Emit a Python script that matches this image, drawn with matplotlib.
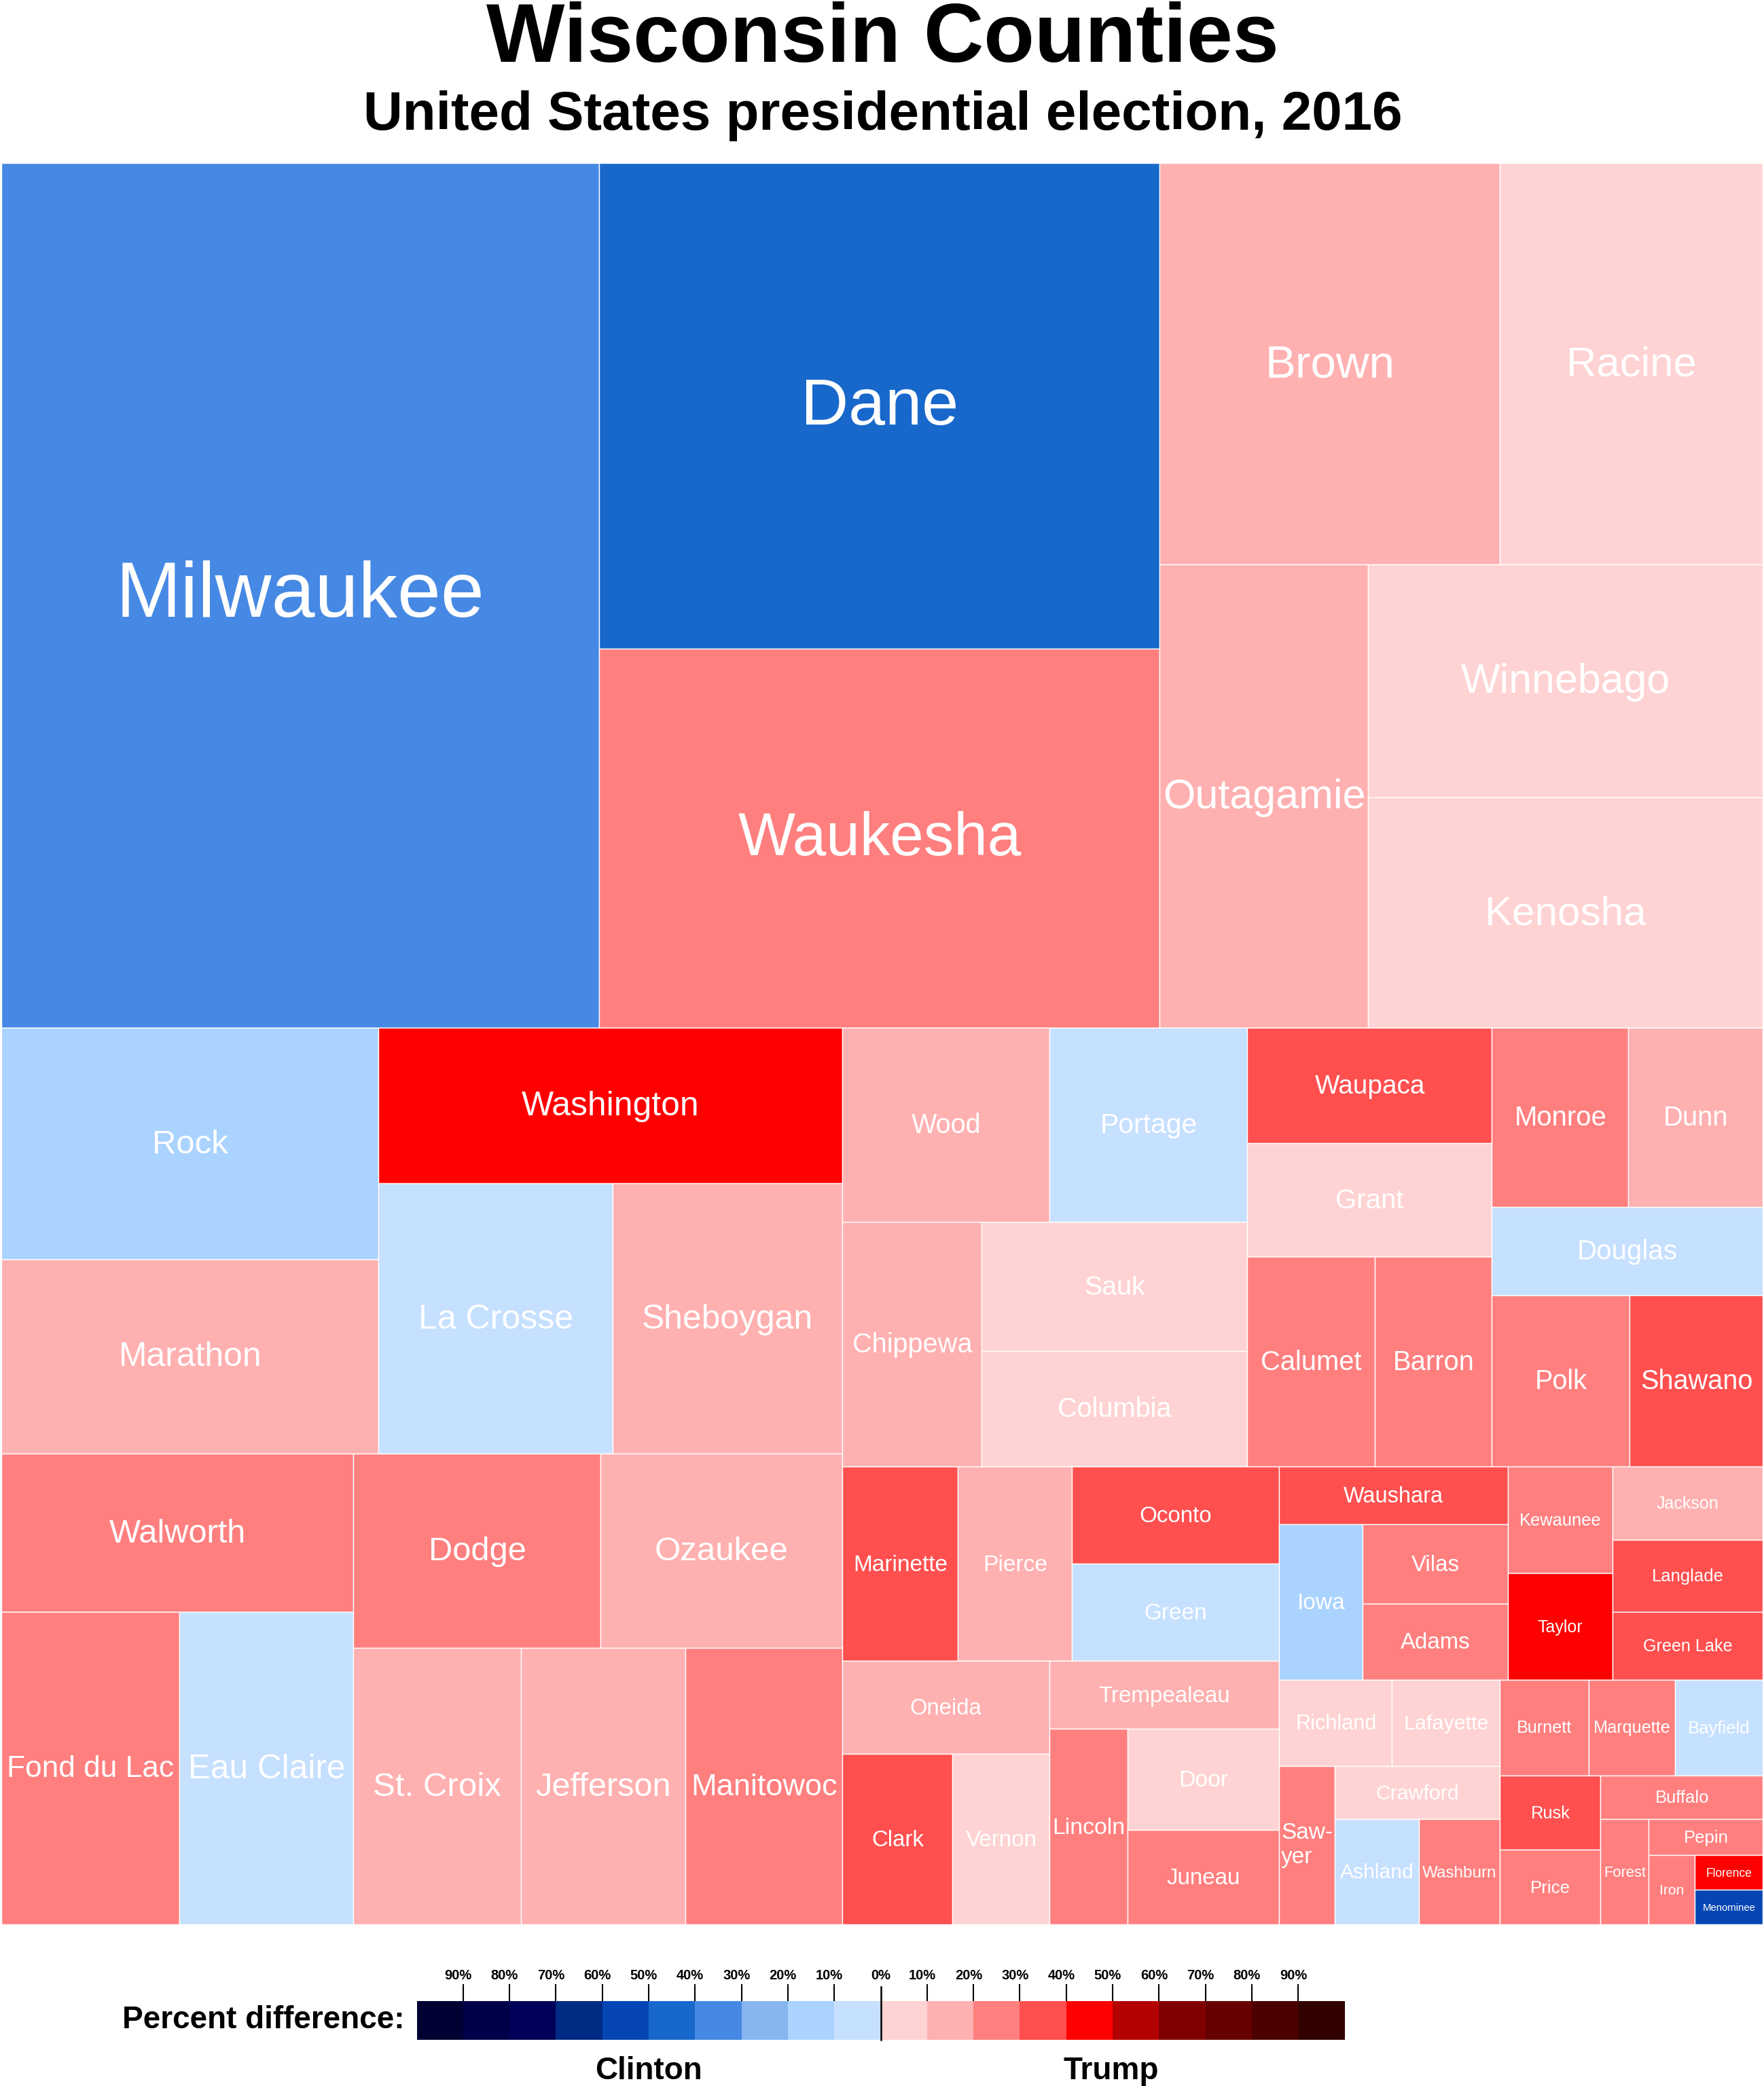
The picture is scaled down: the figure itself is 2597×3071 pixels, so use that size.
import numpy as np
import matplotlib
matplotlib.use('Agg')
import matplotlib.pyplot as plt
from matplotlib.colors import BoundaryNorm, ListedColormap
from matplotlib.font_manager import FontProperties
from matplotlib.patches import Rectangle
from matplotlib.textpath import TextPath

plt.rcParams['font.family'] = ['Liberation Sans', 'DejaVu Sans']

W, H = 2597, 3071

counties = ['Milwaukee', 'Dane', 'Waukesha', 'Brown', 'Racine', 'Outagamie', 'Winnebago', 'Kenosha',
            'Rock', 'Marathon', 'Washington', 'La Crosse', 'Sheboygan', 'Walworth', 'Fond du Lac',
            'Eau Claire', 'Dodge', 'Ozaukee', 'St. Croix', 'Jefferson', 'Manitowoc', 'Wood', 'Portage',
            'Chippewa', 'Sauk', 'Columbia', 'Waupaca', 'Grant', 'Calumet', 'Barron', 'Monroe', 'Dunn',
            'Douglas', 'Polk', 'Shawano', 'Marinette', 'Pierce', 'Oconto', 'Green', 'Oneida', 'Clark',
            'Vernon', 'Trempealeau', 'Lincoln', 'Door', 'Juneau', 'Waushara', 'Iowa', 'Vilas', 'Adams',
            'Kewaunee', 'Taylor', 'Jackson', 'Langlade', 'Green Lake', 'Richland', 'Lafayette', 'Sawyer',
            'Crawford', 'Ashland', 'Washburn', 'Burnett', 'Marquette', 'Bayfield', 'Rusk', 'Price',
            'Buffalo', 'Forest', 'Pepin', 'Iron', 'Florence', 'Menominee']

# size of each county
sizes = [292500, 154030, 120270, 77312, 59796, 54636, 51975, 51381,
         49416, 41464, 40833, 35728, 35119, 31535, 31490,
         30785, 27156, 26572, 26208, 25792, 24544, 22776, 21754,
         19320, 19400, 17400, 16008, 15640, 15168, 13904, 13905, 13635,
         13464, 13416, 12900, 12702, 12556, 11388, 11388, 10920, 10624,
         9344, 8823, 8673, 8664, 8094, 7396, 7371, 6540, 6213,
         6320, 6320, 6215, 6102, 5763, 5525, 5265, 4998,
         4960, 4977, 4819, 4824, 4680, 4752, 4256, 4256,
         4026, 2844, 2322, 1820, 1326, 1326]

# percent difference, negative = Clinton, positive = Trump (only the colour band can be read)
margins = [-35, -45, 25, 15, 5, 15, 5, 5,
           -15, 15, 45, -5, 15, 25, 25,
           -5, 25, 15, 15, 15, 25, 15, -5,
           15, 5, 5, 35, 5, 25, 25, 25, 15,
           -5, 25, 35, 35, 15, 35, -5, 15, 35,
           5, 15, 25, 5, 25, 35, -15, 25, 25,
           25, 45, 15, 35, 35, 5, 5, 25,
           5, -5, 25, 25, 25, -5, 35, 25,
           25, 25, 25, 25, 45, -55]

band_colors = ['#000033', '#00004A', '#000058', '#002B84', '#0646B4', '#1868CC', '#4689E4', '#87B5F0',
               '#AAD3FF', '#C6E0FF', '#FFD3D3', '#FFB0B0', '#FF7F7F', '#FF4F4F', '#FF0000',
               '#B30000', '#800000', '#660000', '#4D0000', '#330000']
band_edges = np.arange(-100, 101, 10)
tick_values = np.arange(-90, 91, 10)

# how the rectangles nest: 'h' = side by side, 'v' = stacked
tree = ('v', [
    ('h', ['Milwaukee', ('v', ['Dane', 'Waukesha']),
           ('v', [('h', ['Brown', 'Racine']),
                  ('h', ['Outagamie', ('v', ['Winnebago', 'Kenosha'])])])]),
    ('h', [
        ('v', [
            ('h', [('v', ['Rock', 'Marathon']),
                   ('v', ['Washington', ('h', ['La Crosse', 'Sheboygan'])])]),
            ('h', [('v', ['Walworth', ('h', ['Fond du Lac', 'Eau Claire'])]),
                   ('v', [('h', ['Dodge', 'Ozaukee']),
                          ('h', ['St. Croix', 'Jefferson', 'Manitowoc'])])]),
        ]),
        ('v', [
            ('h', [
                ('v', [('h', ['Wood', 'Portage']),
                       ('h', ['Chippewa', ('v', ['Sauk', 'Columbia'])])]),
                ('v', ['Waupaca', 'Grant', ('h', ['Calumet', 'Barron'])]),
                ('v', [('h', ['Monroe', 'Dunn']), 'Douglas', ('h', ['Polk', 'Shawano'])]),
            ]),
            ('h', [
                ('v', [
                    ('h', ['Marinette', 'Pierce', ('v', ['Oconto', 'Green'])]),
                    ('h', [('v', ['Oneida', ('h', ['Clark', 'Vernon'])]),
                           ('v', ['Trempealeau', ('h', ['Lincoln', ('v', ['Door', 'Juneau'])])])]),
                ]),
                ('v', [
                    ('h', [('v', ['Waushara', ('h', ['Iowa', ('v', ['Vilas', 'Adams'])])]),
                           ('v', ['Kewaunee', 'Taylor']),
                           ('v', ['Jackson', 'Langlade', 'Green Lake'])]),
                    ('h', [
                        ('v', [('h', ['Richland', 'Lafayette']),
                               ('h', ['Sawyer', ('v', ['Crawford', ('h', ['Ashland', 'Washburn'])])])]),
                        ('v', [('h', ['Burnett', 'Marquette', 'Bayfield']),
                               ('h', [('v', ['Rusk', 'Price']),
                                      ('v', ['Buffalo',
                                             ('h', ['Forest',
                                                    ('v', ['Pepin',
                                                           ('h', ['Iron', ('v', ['Florence', 'Menominee'])])])])])])]),
                    ]),
                ]),
            ]),
        ]),
    ]),
])

# label widths in output pixels, the font size follows from them
label_widths = {
    'Milwaukee': 528, 'Dane': 220, 'Waukesha': 417, 'Brown': 181, 'Racine': 184, 'Outagamie': 293,
    'Winnebago': 305, 'Kenosha': 233, 'Rock': 108, 'Marathon': 203, 'Washington': 258, 'La Crosse': 222,
    'Sheboygan': 246, 'Walworth': 198, 'Fond du Lac': 241, 'Eau Claire': 225, 'Dodge': 138, 'Ozaukee': 192,
    'St. Croix': 186, 'Jefferson': 196, 'Manitowoc': 211, 'Wood': 100, 'Portage': 138, 'Chippewa': 175,
    'Sauk': 88, 'Columbia': 166, 'Waupaca': 162, 'Grant': 98, 'Calumet': 146, 'Barron': 114, 'Monroe': 131,
    'Dunn': 90, 'Douglas': 143, 'Polk': 74, 'Shawano': 162, 'Marinette': 135, 'Pierce': 90.6, 'Oconto': 104,
    'Green': 89, 'Oneida': 104, 'Clark': 75, 'Vernon': 103, 'Trempealeau': 191, 'Lincoln': 102, 'Door': 70,
    'Juneau': 106, 'Waushara': 147, 'Iowa': 67.7, 'Vilas': 69.5, 'Adams': 101.5, 'Kewaunee': 117,
    'Taylor': 65.8, 'Jackson': 89.6, 'Langlade': 102, 'Green Lake': 129, 'Richland': 114.8, 'Lafayette': 121.6,
    'Sawyer': 73, 'Crawford': 119, 'Ashland': 106.5, 'Washburn': 108, 'Burnett': 79, 'Marquette': 110.6,
    'Bayfield': 87.3, 'Rusk': 55.8, 'Price': 55.8, 'Buffalo': 76, 'Forest': 60.3, 'Pepin': 62, 'Iron': 33,
    'Florence': 66, 'Menominee': 76,
}

size_of = dict(zip(counties, sizes))
margin_of = dict(zip(counties, margins))
cmap = ListedColormap(band_colors)
norm = BoundaryNorm(band_edges, cmap.N)
prop = FontProperties(family='Liberation Sans')


def total(node):
    if isinstance(node, str):
        return size_of[node]
    return sum(total(child) for child in node[1])


def layout(node, x, y, w, h, out):
    """Slice the box along the nesting, each part in proportion to its size."""
    if isinstance(node, str):
        out[node] = (x, y, w, h)
        return
    direction, children = node
    whole = total(node)
    for child in children:
        part = total(child) / whole
        if direction == 'h':
            layout(child, x, y, w * part, h, out)
            x += w * part
        else:
            layout(child, x, y, w, h * part, out)
            y += h * part


def label_size(name):
    """Font size in points that makes the label as wide as in the picture (dpi 100)."""
    text = 'Saw-' if name == 'Sawyer' else name
    width = TextPath((0, 0), text, size=100, prop=prop).get_extents().width
    return 100 * label_widths[name] / width * 72 / 100


fig = plt.figure(figsize=(W / 100, H / 100), dpi=100)

ax = fig.add_axes([2 / W, (H - 2833) / H, (W - 4) / W, (2833 - 240) / H])
ax.set_xlim(0, 1)
ax.set_ylim(1, 0)
ax.axis('off')

boxes = {}
layout(tree, 0, 0, 1, 1, boxes)
for name in counties:
    x, y, w, h = boxes[name]
    ax.add_patch(Rectangle((x, y), w, h, facecolor=cmap(norm(margin_of[name])),
                           edgecolor='#ffffff', linewidth=1.0, clip_on=False))
    fs = label_size(name)
    if name == 'Sawyer':
        ax.text(x + w / 2, y + h / 2, 'Saw-\nyer', color='white', fontsize=fs, ha='center', va='center',
                multialignment='left', linespacing=1.22)
    else:
        # baseline a little under the middle, the text sits slightly high in its box
        ax.annotate(name, (x + w / 2, y + h / 2), xytext=(0.3, -0.262 * fs - 1.2), textcoords='offset points',
                    color='white', fontsize=fs, ha='center', va='baseline')

# legend bar
cax = fig.add_axes([613.6 / W, (H - 3003) / H, (1979.5 - 613.6) / W, 57 / H])
cax.pcolormesh(band_edges, [0, 1], np.array([band_edges[:-1] + 5]), cmap=cmap, norm=norm)
cax.set_xlim(-100, 100)
cax.set_ylim(0, 1)
cax.set_yticks([])
for spine in cax.spines.values():
    spine.set_visible(False)
cax.xaxis.tick_top()
cax.set_xticks(tick_values[tick_values != 0])
cax.set_xticklabels([])
cax.tick_params(axis='x', length=18, width=1.5, color='black')
cax.plot([0, 0], [0, 1.37], color='black', linewidth=1.8, clip_on=False)
for v in tick_values:
    cax.annotate(f'{abs(v)}%', (v, 1), xycoords=cax.get_xaxis_transform(),
                 xytext=(0 if v == 0 else -5.2, 23), textcoords='offset points',
                 fontsize=14.5, fontweight='bold', ha='center', va='baseline')

fig.text(1299 / W, 1 - 90.7 / H, 'Wisconsin Counties', fontsize=88, fontweight='bold', ha='center', va='baseline')
fig.text(1300 / W, 1 - 190.7 / H, 'United States presidential election, 2016', fontsize=57.6, fontweight='bold',
         ha='center', va='baseline')
fig.text(595 / W, 1 - 2986 / H, 'Percent difference:', fontsize=33, fontweight='bold', ha='right', va='baseline')
fig.text(955 / W, 1 - 3061 / H, 'Clinton', fontsize=33, fontweight='bold', ha='center', va='baseline')
fig.text(1636 / W, 1 - 3061 / H, 'Trump', fontsize=33, fontweight='bold', ha='center', va='baseline')

fig.savefig('out.png', dpi=100, facecolor='white')
